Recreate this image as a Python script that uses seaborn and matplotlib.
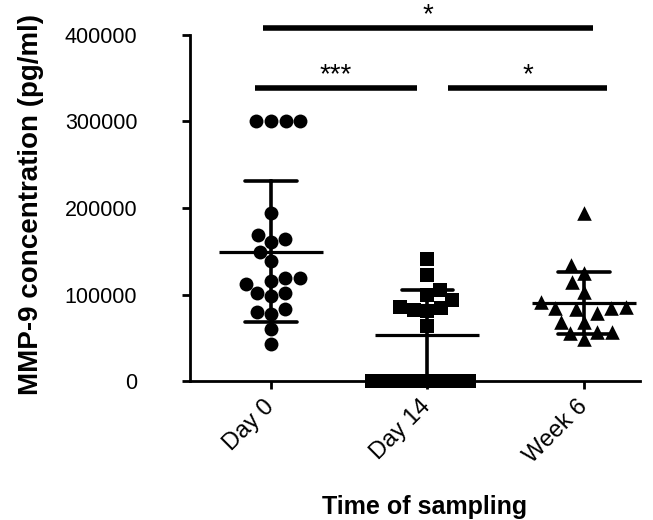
import matplotlib
matplotlib.use('Agg')
import matplotlib.pyplot as plt
import seaborn as sns
import numpy as np
import pandas as pd

# ---------------- data ----------------
GROUPS = ["Day 0", "Day 14", "Week 6"]
MARKERS = ["o", "s", "^"]
SIZES = [10, 9.5, 10.5]

day0 = [300000, 300000, 300000, 300000, 194600, 163800, 168800, 161000,
        149500, 139100, 118700, 111800, 98300, 101400, 101400, 115600,
        119500, 79400, 77500, 82900, 59700, 42800]
day14 = [140700, 122500, 105200, 93600, 99400, 85900, 84000, 81300,
         82100, 63600, 0, 0, 0, 0, 0, 0, 0, 0]
week6 = [193800, 134100, 125000, 113900, 103300, 90800, 84000, 83200,
         84000, 85900, 78200, 68600, 68600, 55000, 48500, 57000, 57000]

YTICKS = [0, 100000, 200000, 300000, 400000]

# significance brackets: (start group, end group, label)
SIG = [("Day 0", "Week 6", "*"), ("Day 0", "Day 14", "***"), ("Day 14", "Week 6", "*")]
SIG_Y = [408000, 338700, 338700]

df = pd.DataFrame({
    "group": ["Day 0"] * len(day0) + ["Day 14"] * len(day14) + ["Week 6"] * len(week6),
    "value": day0 + day14 + week6,
})

# ---------------- figure ----------------
sns.set_style("ticks")
plt.rcParams['font.family'] = ['Liberation Sans', 'DejaVu Sans']
plt.rcParams['text.color'] = 'black'
plt.rcParams['axes.labelcolor'] = 'black'

fig = plt.figure(figsize=(6.53, 5.2), dpi=100)
ax = fig.add_axes([0.291, 0.2673, 0.689, 0.6654])

for g, m, s in zip(GROUPS, MARKERS, SIZES):
    sns.swarmplot(data=df[df.group == g], x="group", y="value", order=GROUPS,
                  marker=m, size=s, color="black", linewidth=0, ax=ax)

# mean +/- SD
sns.pointplot(data=df, x="group", y="value", order=GROUPS, errorbar="sd",
              color="black", markers="_", markersize=75, markeredgewidth=2.3,
              linestyle="none", capsize=0.33, err_kws={"linewidth": 2.6}, ax=ax)

for c in ax.collections:
    c.set_clip_on(False)
for l in ax.lines:
    l.set_clip_on(False)

ax.set_xlim(-0.518, 2.358)
ax.set_ylim(0, 400000)
ax.set_yticks(YTICKS)
ax.set_yticklabels([str(v) for v in YTICKS])

sns.despine(ax=ax)
for sp in ["left", "bottom"]:
    ax.spines[sp].set_linewidth(2)
    ax.spines[sp].set_color("black")
ax.tick_params(axis="both", width=2, length=6, colors="black")
ax.tick_params(axis="y", pad=32, labelsize=15.5)
ax.tick_params(axis="x", pad=10, labelsize=17)
plt.setp(ax.get_xticklabels(), rotation=45, ha="right", va="center",
         rotation_mode="anchor")

ax.set_xlabel("Time of sampling", fontsize=18, fontweight="bold", color="black")
ax.set_ylabel("MMP-9 concentration (pg/ml)", fontsize=20, fontweight="bold",
              color="black")
ax.xaxis.set_label_coords(0.522, -0.33)
ax.yaxis.set_label_coords(-0.325, 0.51)

# significance bars
pos = {g: i for i, g in enumerate(GROUPS)}
for (a, b, lab), y in zip(SIG, SIG_Y):
    if lab == "***":
        x0, x1 = pos[a] - 0.1, pos[b] - 0.07
    elif (a, b) == ("Day 0", "Week 6"):
        x0, x1 = pos[a] - 0.05, pos[b] + 0.06
    else:
        x0, x1 = pos[a] + 0.13, pos[b] + 0.15
    ax.plot([x0, x1], [y, y], color="black", lw=4, solid_capstyle="butt",
            clip_on=False)
    ax.text((x0 + x1) / 2, y, lab, ha="center", va="bottom",
            fontsize=20, clip_on=False)

fig.savefig("out.png", dpi=100)
